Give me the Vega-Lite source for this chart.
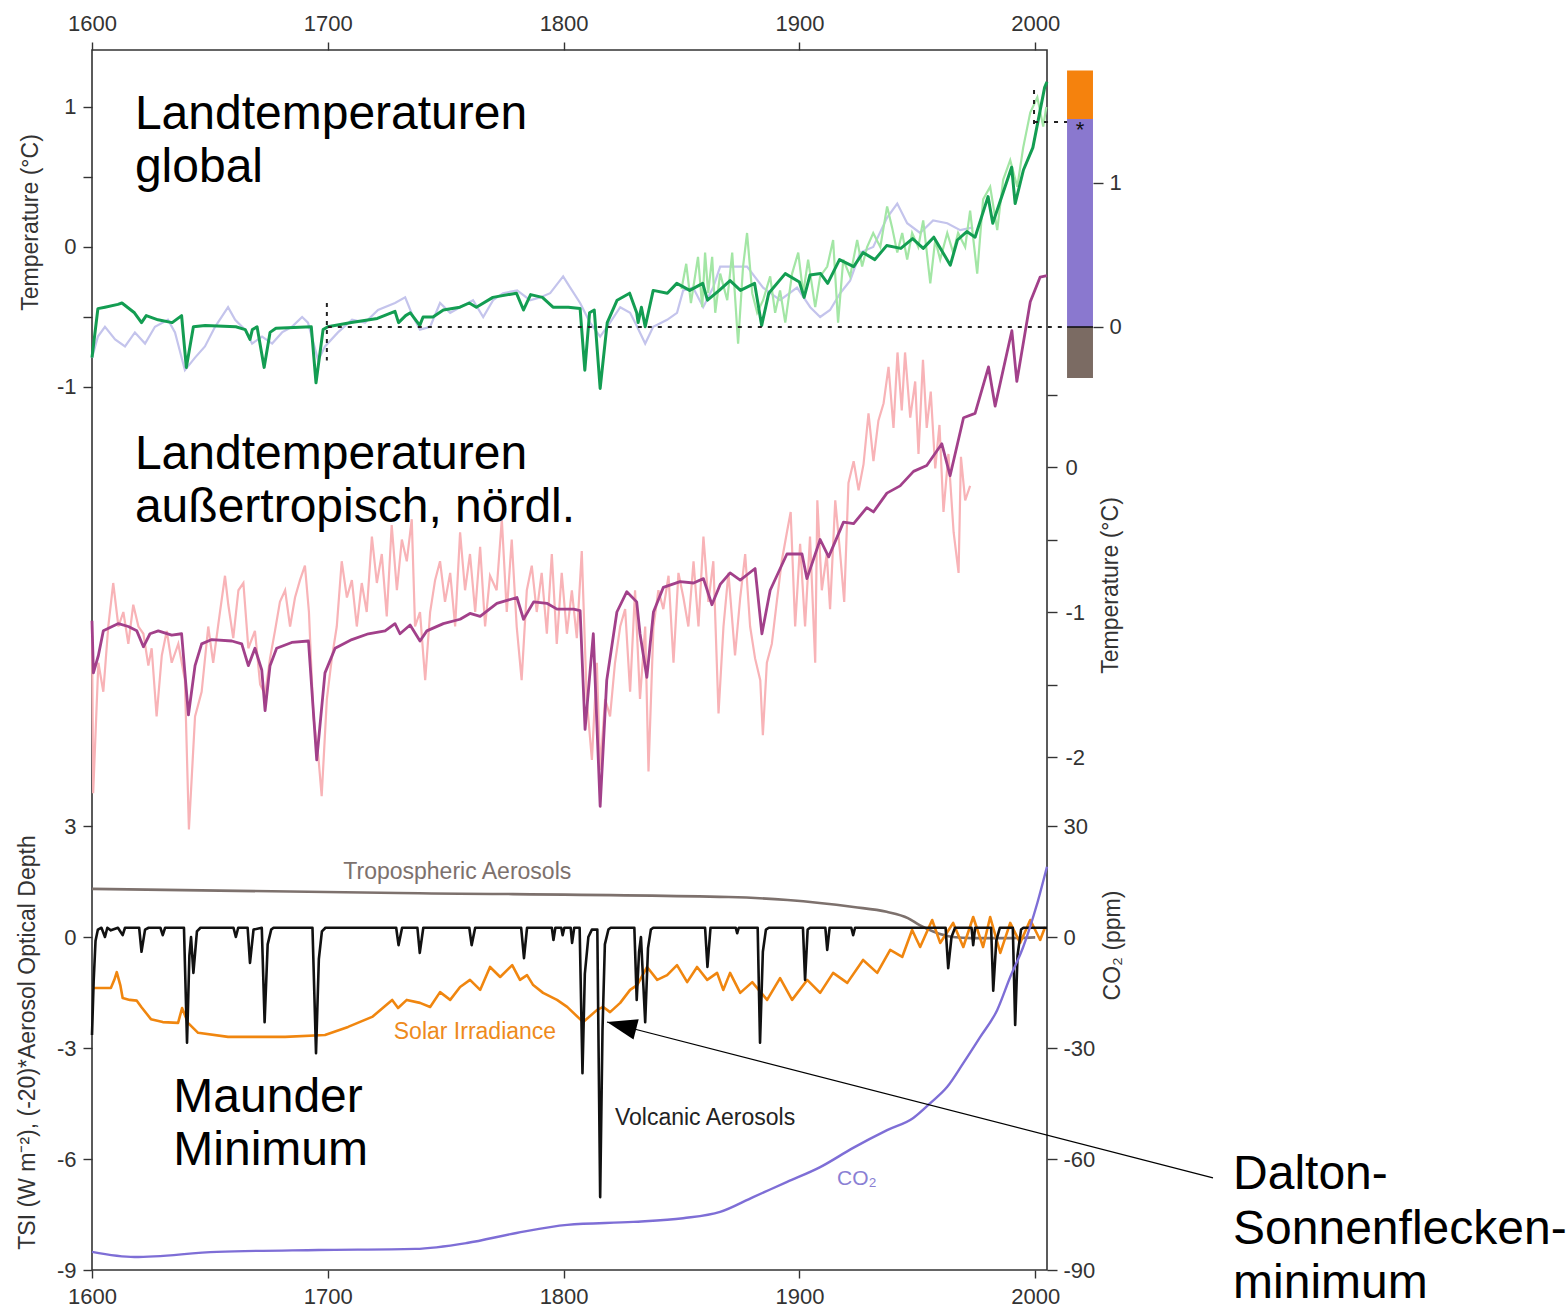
{
  "$schema": "https://vega.github.io/schema/vega-lite/v6.json",
  "width": 955,
  "height": 1220,
  "autosize": {"type": "none"},
  "padding": {"left": 92, "top": 50, "right": 521, "bottom": 40},
  "background": "white",
  "config": {
    "font": "Liberation Sans",
    "view": {"stroke": "#333", "strokeWidth": 1.6},
    "axis": {"grid": false, "domain": false, "labelFont": "Liberation Sans", "labelFontSize": 22, "labelColor": "#333", "tickColor": "#333", "tickWidth": 1.4, "titleFont": "Liberation Sans", "titleFontSize": 23, "titleFontWeight": "normal", "titleColor": "#333", "labelOverlap": false, "labelFlush": false}
  },
  "datasets": {
    "globRec": [
      {"yr":1600,"v":-0.79},{"yr":1602.5,"v":-0.64},{"yr":1605.5,"v":-0.57},{"yr":1609.8,"v":-0.66},{"yr":1614,"v":-0.71},{"yr":1618.2,"v":-0.61},{"yr":1622.5,"v":-0.69},{"yr":1626.7,"v":-0.57},{"yr":1632.2,"v":-0.52},{"yr":1635.2,"v":-0.61},{"yr":1639.4,"v":-0.88},{"yr":1643.7,"v":-0.79},{"yr":1647.9,"v":-0.71},{"yr":1652.2,"v":-0.57},{"yr":1657.7,"v":-0.43},{"yr":1660.7,"v":-0.52},{"yr":1664.9,"v":-0.59},{"yr":1667.9,"v":-0.69},{"yr":1672.1,"v":-0.64},{"yr":1676.4,"v":-0.69},{"yr":1680.6,"v":-0.61},{"yr":1684.8,"v":-0.57},{"yr":1689.1,"v":-0.50},{"yr":1691.6,"v":-0.54},{"yr":1695.9,"v":-0.81},{"yr":1698.8,"v":-0.71},{"yr":1704.3,"v":-0.61},{"yr":1710.3,"v":-0.52},{"yr":1715.8,"v":-0.54},{"yr":1721.3,"v":-0.45},{"yr":1728.5,"v":-0.40},{"yr":1732.8,"v":-0.36},{"yr":1736.2,"v":-0.50},{"yr":1739.1,"v":-0.59},{"yr":1743.4,"v":-0.57},{"yr":1747.6,"v":-0.40},{"yr":1751.9,"v":-0.47},{"yr":1756.1,"v":-0.43},{"yr":1761.6,"v":-0.38},{"yr":1765.9,"v":-0.50},{"yr":1770.1,"v":-0.38},{"yr":1774.3,"v":-0.33},{"yr":1780.3,"v":-0.31},{"yr":1785.8,"v":-0.38},{"yr":1790,"v":-0.36},{"yr":1794.3,"v":-0.33},{"yr":1799.8,"v":-0.21},{"yr":1802.8,"v":-0.29},{"yr":1807,"v":-0.40},{"yr":1811.2,"v":-0.54},{"yr":1815.5,"v":-0.64},{"yr":1819.7,"v":-0.54},{"yr":1824,"v":-0.43},{"yr":1828.2,"v":-0.47},{"yr":1831.2,"v":-0.57},{"yr":1834.6,"v":-0.69},{"yr":1838,"v":-0.57},{"yr":1843.9,"v":-0.52},{"yr":1848.1,"v":-0.47},{"yr":1850.7,"v":-0.31},{"yr":1854.9,"v":-0.29},{"yr":1859.2,"v":-0.43},{"yr":1863.4,"v":-0.29},{"yr":1866.4,"v":-0.14},{"yr":1877.8,"v":-0.14},{"yr":1884.6,"v":-0.29},{"yr":1891.8,"v":-0.38},{"yr":1899,"v":-0.29},{"yr":1904.6,"v":-0.43},{"yr":1908.8,"v":-0.50},{"yr":1913,"v":-0.45},{"yr":1917.3,"v":-0.33},{"yr":1921.5,"v":-0.24},{"yr":1925.8,"v":-0.04},{"yr":1931.3,"v":0.0},{"yr":1937.2,"v":0.21},{"yr":1941.5,"v":0.31},{"yr":1945.7,"v":0.17},{"yr":1951.2,"v":0.10},{"yr":1956.7,"v":0.19},{"yr":1962.7,"v":0.17},{"yr":1968.2,"v":0.12},{"yr":1973.7,"v":0.14}
    ],
    "globInst": [
      {"yr":1850,"v":-0.30},{"yr":1852,"v":-0.12},{"yr":1854,"v":-0.40},{"yr":1857,"v":-0.07},{"yr":1858.8,"v":-0.43},{"yr":1860,"v":-0.04},{"yr":1861.3,"v":-0.33},{"yr":1863,"v":-0.07},{"yr":1864.3,"v":-0.47},{"yr":1866.4,"v":-0.19},{"yr":1869.4,"v":-0.38},{"yr":1871.5,"v":-0.04},{"yr":1874,"v":-0.69},{"yr":1876.1,"v":-0.14},{"yr":1877.8,"v":0.10},{"yr":1880,"v":-0.33},{"yr":1882.1,"v":-0.47},{"yr":1884.6,"v":-0.38},{"yr":1887.6,"v":-0.21},{"yr":1889.7,"v":-0.47},{"yr":1891.8,"v":-0.31},{"yr":1894,"v":-0.54},{"yr":1896.9,"v":-0.19},{"yr":1899.5,"v":-0.04},{"yr":1901.6,"v":-0.33},{"yr":1903.7,"v":-0.09},{"yr":1906.7,"v":-0.43},{"yr":1908.8,"v":-0.21},{"yr":1911.8,"v":-0.14},{"yr":1914.3,"v":0.05},{"yr":1916.4,"v":-0.54},{"yr":1918.6,"v":-0.09},{"yr":1921.5,"v":-0.21},{"yr":1924.5,"v":0.05},{"yr":1926.6,"v":-0.14},{"yr":1928.7,"v":0.0},{"yr":1931.3,"v":0.10},{"yr":1934.3,"v":0.0},{"yr":1937.2,"v":0.29},{"yr":1939.3,"v":0.14},{"yr":1941.5,"v":-0.04},{"yr":1943.6,"v":0.10},{"yr":1945.7,"v":-0.09},{"yr":1947.8,"v":0.10},{"yr":1950.4,"v":0.0},{"yr":1952.5,"v":0.19},{"yr":1955.5,"v":-0.26},{"yr":1957.6,"v":0.05},{"yr":1959.7,"v":-0.09},{"yr":1962.7,"v":0.10},{"yr":1965.2,"v":-0.04},{"yr":1967.3,"v":0.10},{"yr":1970.3,"v":0.0},{"yr":1972.4,"v":0.26},{"yr":1975.4,"v":-0.19},{"yr":1977.9,"v":0.34},{"yr":1980.9,"v":0.43},{"yr":1983.9,"v":0.12},{"yr":1986.4,"v":0.48},{"yr":1989.4,"v":0.62},{"yr":1992.4,"v":0.43},{"yr":1994.9,"v":0.71},{"yr":1997.9,"v":0.96},{"yr":2000.9,"v":1.07},{"yr":2003.4,"v":0.86},{"yr":2004.7,"v":1.00}
    ],
    "glob": [
      {"yr":1600,"v":-0.79},{"yr":1602.5,"v":-0.44},{"yr":1605.5,"v":-0.43},{"yr":1611,"v":-0.41},{"yr":1612.7,"v":-0.40},{"yr":1618,"v":-0.47},{"yr":1621,"v":-0.54},{"yr":1623,"v":-0.49},{"yr":1628,"v":-0.52},{"yr":1634,"v":-0.54},{"yr":1638,"v":-0.49},{"yr":1640,"v":-0.86},{"yr":1643,"v":-0.57},{"yr":1648,"v":-0.56},{"yr":1661,"v":-0.57},{"yr":1665,"v":-0.59},{"yr":1667,"v":-0.66},{"yr":1668,"v":-0.59},{"yr":1670,"v":-0.57},{"yr":1673,"v":-0.86},{"yr":1675.5,"v":-0.61},{"yr":1678,"v":-0.58},{"yr":1693,"v":-0.57},{"yr":1695,"v":-0.97},{"yr":1698,"v":-0.59},{"yr":1700,"v":-0.57},{"yr":1710,"v":-0.54},{"yr":1721,"v":-0.51},{"yr":1728.5,"v":-0.46},{"yr":1730,"v":-0.54},{"yr":1733,"v":-0.49},{"yr":1735,"v":-0.47},{"yr":1739,"v":-0.56},{"yr":1740.4,"v":-0.50},{"yr":1744.6,"v":-0.50},{"yr":1749,"v":-0.45},{"yr":1756,"v":-0.43},{"yr":1760,"v":-0.40},{"yr":1763,"v":-0.43},{"yr":1770,"v":-0.36},{"yr":1780,"v":-0.33},{"yr":1783,"v":-0.45},{"yr":1786,"v":-0.34},{"yr":1791,"v":-0.36},{"yr":1795.5,"v":-0.43},{"yr":1802,"v":-0.43},{"yr":1807,"v":-0.44},{"yr":1809,"v":-0.88},{"yr":1811,"v":-0.47},{"yr":1813,"v":-0.45},{"yr":1815.5,"v":-1.01},{"yr":1818.5,"v":-0.54},{"yr":1822.7,"v":-0.38},{"yr":1828,"v":-0.33},{"yr":1831,"v":-0.47},{"yr":1831.6,"v":-0.54},{"yr":1833,"v":-0.43},{"yr":1834.6,"v":-0.57},{"yr":1838,"v":-0.31},{"yr":1844,"v":-0.33},{"yr":1848,"v":-0.26},{"yr":1853.5,"v":-0.31},{"yr":1859,"v":-0.26},{"yr":1861,"v":-0.38},{"yr":1866,"v":-0.31},{"yr":1870.6,"v":-0.24},{"yr":1875,"v":-0.31},{"yr":1881,"v":-0.26},{"yr":1884,"v":-0.56},{"yr":1887,"v":-0.33},{"yr":1894,"v":-0.19},{"yr":1900,"v":-0.25},{"yr":1902,"v":-0.36},{"yr":1904.5,"v":-0.20},{"yr":1909,"v":-0.19},{"yr":1912,"v":-0.26},{"yr":1917,"v":-0.09},{"yr":1923,"v":-0.14},{"yr":1927,"v":-0.04},{"yr":1932,"v":-0.09},{"yr":1937,"v":0.01},{"yr":1943,"v":-0.01},{"yr":1948,"v":0.06},{"yr":1952.5,"v":-0.01},{"yr":1957,"v":0.07},{"yr":1964,"v":-0.13},{"yr":1967,"v":0.05},{"yr":1971,"v":0.11},{"yr":1974.5,"v":0.07},{"yr":1980,"v":0.36},{"yr":1982,"v":0.17},{"yr":1990,"v":0.57},{"yr":1991.5,"v":0.31},{"yr":1995,"v":0.55},{"yr":1999,"v":0.71},{"yr":2004,"v":1.14},{"yr":2005,"v":1.18}
    ],
    "nhRec": [
      {"yr":1600,"v":-1.10},{"yr":1600.5,"v":-2.25},{"yr":1602.7,"v":-1.35},{"yr":1604.8,"v":-1.55},{"yr":1606.9,"v":-1.10},{"yr":1609,"v":-0.80},{"yr":1611.2,"v":-1.10},{"yr":1613.3,"v":-1.00},{"yr":1615.4,"v":-1.22},{"yr":1617.5,"v":-0.95},{"yr":1619.7,"v":-1.10},{"yr":1621.8,"v":-1.15},{"yr":1623.9,"v":-1.37},{"yr":1625.3,"v":-1.25},{"yr":1627.4,"v":-1.72},{"yr":1629.6,"v":-1.30},{"yr":1631.7,"v":-1.13},{"yr":1633.8,"v":-1.35},{"yr":1636.6,"v":-1.22},{"yr":1639.4,"v":-1.47},{"yr":1641.1,"v":-2.50},{"yr":1643.7,"v":-1.72},{"yr":1646.5,"v":-1.55},{"yr":1649.3,"v":-1.10},{"yr":1651.4,"v":-1.35},{"yr":1653.6,"v":-1.08},{"yr":1656.4,"v":-0.75},{"yr":1657.8,"v":-0.95},{"yr":1659.9,"v":-1.18},{"yr":1662.1,"v":-0.85},{"yr":1664.2,"v":-0.80},{"yr":1666.3,"v":-1.25},{"yr":1669.1,"v":-1.13},{"yr":1671.3,"v":-1.50},{"yr":1673.4,"v":-1.57},{"yr":1675.5,"v":-1.32},{"yr":1677.6,"v":-1.13},{"yr":1679.7,"v":-0.93},{"yr":1681.9,"v":-0.85},{"yr":1684,"v":-1.10},{"yr":1686.1,"v":-0.90},{"yr":1688.2,"v":-0.78},{"yr":1690.3,"v":-0.68},{"yr":1692,"v":-1.00},{"yr":1693.9,"v":-1.72},{"yr":1696,"v":-2.00},{"yr":1697.4,"v":-2.27},{"yr":1699.6,"v":-1.60},{"yr":1701.7,"v":-1.32},{"yr":1703.8,"v":-1.10},{"yr":1705.9,"v":-0.65},{"yr":1708.1,"v":-0.90},{"yr":1710.2,"v":-0.78},{"yr":1712.3,"v":-1.10},{"yr":1714.4,"v":-0.80},{"yr":1716.5,"v":-1.00},{"yr":1718.7,"v":-0.48},{"yr":1720.8,"v":-0.80},{"yr":1722.9,"v":-0.60},{"yr":1725,"v":-1.03},{"yr":1727.1,"v":-0.40},{"yr":1729.3,"v":-0.85},{"yr":1731.4,"v":-0.50},{"yr":1733.5,"v":-0.65},{"yr":1735.6,"v":-0.36},{"yr":1737,"v":-1.10},{"yr":1739.1,"v":-1.00},{"yr":1741.3,"v":-1.47},{"yr":1743.4,"v":-1.00},{"yr":1745.5,"v":-0.78},{"yr":1747.6,"v":-0.65},{"yr":1749.7,"v":-0.93},{"yr":1751.9,"v":-0.73},{"yr":1754,"v":-1.10},{"yr":1756.1,"v":-0.45},{"yr":1758.2,"v":-0.85},{"yr":1760.3,"v":-0.60},{"yr":1762.5,"v":-1.00},{"yr":1764.6,"v":-0.55},{"yr":1766.7,"v":-1.10},{"yr":1768.8,"v":-0.75},{"yr":1771.6,"v":-0.85},{"yr":1773.8,"v":-0.36},{"yr":1775.9,"v":-1.00},{"yr":1778,"v":-0.50},{"yr":1780.1,"v":-1.10},{"yr":1782.2,"v":-1.47},{"yr":1784.4,"v":-0.85},{"yr":1786.5,"v":-0.68},{"yr":1788.6,"v":-1.00},{"yr":1790.7,"v":-0.73},{"yr":1792.9,"v":-1.15},{"yr":1795,"v":-0.60},{"yr":1797.1,"v":-1.22},{"yr":1799.2,"v":-0.73},{"yr":1801.4,"v":-1.15},{"yr":1803.5,"v":-0.85},{"yr":1805.6,"v":-1.18},{"yr":1807.7,"v":-0.58},{"yr":1809.8,"v":-1.60},{"yr":1812,"v":-2.02},{"yr":1814.1,"v":-1.35},{"yr":1815.5,"v":-2.09},{"yr":1817.6,"v":-1.60},{"yr":1819.7,"v":-1.72},{"yr":1821.8,"v":-1.35},{"yr":1824,"v":-1.10},{"yr":1826.1,"v":-0.98},{"yr":1828.2,"v":-1.55},{"yr":1830.3,"v":-0.85},{"yr":1832.4,"v":-1.60},{"yr":1834.6,"v":-1.10},{"yr":1836,"v":-2.10},{"yr":1838.1,"v":-1.10},{"yr":1840.2,"v":-0.85},{"yr":1842.3,"v":-0.98},{"yr":1844.5,"v":-0.75},{"yr":1846.6,"v":-1.35},{"yr":1848.7,"v":-0.73},{"yr":1850.8,"v":-0.90},{"yr":1852.9,"v":-1.10},{"yr":1855.1,"v":-0.65},{"yr":1857.2,"v":-1.10},{"yr":1859.3,"v":-0.48},{"yr":1861.4,"v":-0.93},{"yr":1863.5,"v":-0.65},{"yr":1865.7,"v":-1.70},{"yr":1867.8,"v":-1.10},{"yr":1869.9,"v":-0.73},{"yr":1872.7,"v":-1.30},{"yr":1874.9,"v":-0.90},{"yr":1877,"v":-0.60},{"yr":1879.1,"v":-1.10},{"yr":1881.2,"v":-1.32},{"yr":1883.4,"v":-1.47},{"yr":1884.5,"v":-1.85},{"yr":1886.2,"v":-1.35},{"yr":1888.3,"v":-1.22},{"yr":1890.4,"v":-0.93},{"yr":1892.5,"v":-0.65},{"yr":1894.7,"v":-0.45},{"yr":1896.3,"v":-0.31},{"yr":1898.2,"v":-1.10},{"yr":1900.3,"v":-0.53},{"yr":1902.4,"v":-1.10},{"yr":1904.5,"v":-0.48},{"yr":1906.7,"v":-1.35},{"yr":1907.6,"v":-0.23},{"yr":1909.5,"v":-0.85},{"yr":1911.6,"v":-0.60},{"yr":1913,"v":-0.98},{"yr":1915.2,"v":-0.23},{"yr":1917.3,"v":-0.60},{"yr":1919,"v":-0.93},{"yr":1920.8,"v":-0.11},{"yr":1923,"v":0.04},{"yr":1925.1,"v":-0.16},{"yr":1927.2,"v":0.02},{"yr":1929.3,"v":0.37},{"yr":1931.4,"v":0.04},{"yr":1933.5,"v":0.32},{"yr":1935.7,"v":0.44},{"yr":1937.8,"v":0.69},{"yr":1939.9,"v":0.27},{"yr":1941.6,"v":0.79},{"yr":1943.4,"v":0.39},{"yr":1944.8,"v":0.79},{"yr":1947,"v":0.34},{"yr":1949.1,"v":0.59},{"yr":1950.5,"v":0.09},{"yr":1952.4,"v":0.74},{"yr":1954,"v":0.27},{"yr":1955.7,"v":0.52},{"yr":1957.6,"v":-0.01},{"yr":1959.4,"v":0.29},{"yr":1961.1,"v":-0.31},{"yr":1963.2,"v":0.09},{"yr":1965.4,"v":-0.45},{"yr":1967.5,"v":-0.73},{"yr":1968.5,"v":0.07},{"yr":1970.3,"v":-0.23},{"yr":1972.4,"v":-0.13}
    ],
    "nh": [
      {"yr":1600,"v":-1.06},{"yr":1600.6,"v":-1.42},{"yr":1602.7,"v":-1.30},{"yr":1604.8,"v":-1.13},{"yr":1611.2,"v":-1.08},{"yr":1615.4,"v":-1.10},{"yr":1619,"v":-1.13},{"yr":1621.8,"v":-1.24},{"yr":1624.6,"v":-1.15},{"yr":1628.1,"v":-1.13},{"yr":1633.8,"v":-1.16},{"yr":1638,"v":-1.15},{"yr":1640.9,"v":-1.71},{"yr":1643.7,"v":-1.37},{"yr":1646.5,"v":-1.22},{"yr":1650.8,"v":-1.19},{"yr":1659.3,"v":-1.20},{"yr":1663.5,"v":-1.22},{"yr":1666.3,"v":-1.37},{"yr":1669.1,"v":-1.25},{"yr":1672,"v":-1.40},{"yr":1673.4,"v":-1.68},{"yr":1675.5,"v":-1.37},{"yr":1678.3,"v":-1.25},{"yr":1684.7,"v":-1.21},{"yr":1691.8,"v":-1.20},{"yr":1695.3,"v":-2.02},{"yr":1698.8,"v":-1.42},{"yr":1703.1,"v":-1.25},{"yr":1710.2,"v":-1.19},{"yr":1717.2,"v":-1.15},{"yr":1724.3,"v":-1.13},{"yr":1728.5,"v":-1.08},{"yr":1730.6,"v":-1.15},{"yr":1734.9,"v":-1.09},{"yr":1739.1,"v":-1.20},{"yr":1742,"v":-1.13},{"yr":1749,"v":-1.08},{"yr":1756.1,"v":-1.05},{"yr":1760.3,"v":-1.01},{"yr":1764.6,"v":-1.03},{"yr":1771.7,"v":-0.94},{"yr":1780.2,"v":-0.90},{"yr":1783,"v":-1.05},{"yr":1787.3,"v":-0.93},{"yr":1792.9,"v":-0.94},{"yr":1797.2,"v":-0.98},{"yr":1804.2,"v":-0.98},{"yr":1807,"v":-0.99},{"yr":1809.1,"v":-1.81},{"yr":1812.6,"v":-1.15},{"yr":1815.5,"v":-2.34},{"yr":1818.3,"v":-1.47},{"yr":1822.6,"v":-1.00},{"yr":1826.8,"v":-0.86},{"yr":1831,"v":-0.93},{"yr":1832.4,"v":-1.15},{"yr":1835.3,"v":-1.45},{"yr":1838.1,"v":-1.00},{"yr":1842.3,"v":-0.83},{"yr":1849.4,"v":-0.79},{"yr":1855.1,"v":-0.80},{"yr":1859.3,"v":-0.77},{"yr":1862.9,"v":-0.95},{"yr":1866.4,"v":-0.81},{"yr":1870.6,"v":-0.73},{"yr":1874.9,"v":-0.78},{"yr":1881.2,"v":-0.70},{"yr":1884.1,"v":-1.15},{"yr":1887.6,"v":-0.85},{"yr":1894.7,"v":-0.60},{"yr":1901.1,"v":-0.60},{"yr":1903.2,"v":-0.77},{"yr":1908.8,"v":-0.50},{"yr":1912.4,"v":-0.62},{"yr":1918.7,"v":-0.38},{"yr":1923,"v":-0.39},{"yr":1928.6,"v":-0.28},{"yr":1931.4,"v":-0.31},{"yr":1937.1,"v":-0.18},{"yr":1942.7,"v":-0.13},{"yr":1948.4,"v":-0.03},{"yr":1954,"v":0.01},{"yr":1960.4,"v":0.16},{"yr":1963.9,"v":-0.06},{"yr":1969.6,"v":0.34},{"yr":1974.5,"v":0.37},{"yr":1980.2,"v":0.69},{"yr":1983,"v":0.42},{"yr":1990.1,"v":0.94},{"yr":1992.2,"v":0.59},{"yr":1997.9,"v":1.14},{"yr":2002.1,"v":1.31},{"yr":2005,"v":1.32}
    ],
    "tropo": [
      {"yr":1600,"v":1.30},{"yr":1730,"v":1.19},{"yr":1870,"v":1.08},{"yr":1895,"v":1.00},{"yr":1923,"v":0.81},{"yr":1937,"v":0.68},{"yr":1946,"v":0.51},{"yr":1951,"v":0.32},{"yr":1957,"v":0.14},{"yr":1965,"v":0.0},{"yr":1973,"v":-0.03},{"yr":1990,"v":-0.03},{"yr":2000,"v":-0.01}
    ],
    "solar": [
      {"yr":1600,"v":-1.38},{"yr":1608,"v":-1.38},{"yr":1609.5,"v":-1.15},{"yr":1610.5,"v":-0.95},{"yr":1612,"v":-1.30},{"yr":1613,"v":-1.65},{"yr":1616,"v":-1.70},{"yr":1619,"v":-1.72},{"yr":1621,"v":-1.90},{"yr":1625,"v":-2.22},{"yr":1630,"v":-2.30},{"yr":1636.5,"v":-2.32},{"yr":1638.2,"v":-1.92},{"yr":1640.7,"v":-2.32},{"yr":1645,"v":-2.59},{"yr":1657.7,"v":-2.70},{"yr":1681.9,"v":-2.70},{"yr":1698.8,"v":-2.65},{"yr":1708.6,"v":-2.43},{"yr":1718.8,"v":-2.16},{"yr":1727.3,"v":-1.70},{"yr":1729.8,"v":-1.92},{"yr":1733.5,"v":-1.70},{"yr":1739.1,"v":-1.78},{"yr":1743.4,"v":-1.89},{"yr":1747.6,"v":-1.49},{"yr":1751.9,"v":-1.70},{"yr":1756.1,"v":-1.35},{"yr":1760.3,"v":-1.16},{"yr":1764.6,"v":-1.43},{"yr":1768.8,"v":-0.81},{"yr":1773.1,"v":-1.08},{"yr":1778.2,"v":-0.76},{"yr":1781.5,"v":-1.16},{"yr":1784.5,"v":-1.03},{"yr":1787.1,"v":-1.30},{"yr":1791.3,"v":-1.51},{"yr":1797.2,"v":-1.70},{"yr":1801.5,"v":-1.89},{"yr":1808.3,"v":-2.30},{"yr":1814.2,"v":-1.97},{"yr":1816.8,"v":-1.89},{"yr":1819.7,"v":-2.03},{"yr":1824,"v":-1.78},{"yr":1828.2,"v":-1.43},{"yr":1831.2,"v":-1.30},{"yr":1835.4,"v":-0.81},{"yr":1839.7,"v":-1.16},{"yr":1843.9,"v":-1.03},{"yr":1848.1,"v":-0.76},{"yr":1852.4,"v":-1.22},{"yr":1856.6,"v":-0.81},{"yr":1860.9,"v":-1.16},{"yr":1865.1,"v":-0.97},{"yr":1867.7,"v":-1.43},{"yr":1870.6,"v":-0.97},{"yr":1874.9,"v":-1.51},{"yr":1880,"v":-1.22},{"yr":1886.3,"v":-1.70},{"yr":1891.8,"v":-1.11},{"yr":1896.9,"v":-1.70},{"yr":1903.3,"v":-1.16},{"yr":1908.8,"v":-1.51},{"yr":1914.3,"v":-0.97},{"yr":1920.3,"v":-1.24},{"yr":1927,"v":-0.62},{"yr":1933,"v":-0.97},{"yr":1938.5,"v":-0.35},{"yr":1943.6,"v":-0.54},{"yr":1947.8,"v":0.19},{"yr":1951.2,"v":-0.27},{"yr":1956.3,"v":0.46},{"yr":1959.7,"v":-0.16},{"yr":1965.2,"v":0.38},{"yr":1969.5,"v":-0.27},{"yr":1973.7,"v":0.54},{"yr":1977.9,"v":-0.27},{"yr":1980.9,"v":0.54},{"yr":1985.2,"v":-0.43},{"yr":1989.4,"v":0.38},{"yr":1993.6,"v":-0.16},{"yr":1997.9,"v":0.46},{"yr":2002.1,"v":-0.08},{"yr":2004.2,"v":0.27}
    ],
    "volc": [
      {"yr":1600,"v":-2.65},{"yr":1600.7,"v":-1.2},{"yr":1601.5,"v":-0.1},{"yr":1602.5,"v":0.2},{"yr":1604,"v":0.25},{"yr":1605.5,"v":0.0},{"yr":1606.5,"v":0.25},{"yr":1608,"v":0.18},{"yr":1611,"v":0.25},{"yr":1613,"v":0.05},{"yr":1614,"v":0.25},{"yr":1620,"v":0.25},{"yr":1621,"v":-0.40},{"yr":1622.5,"v":0.2},{"yr":1624,"v":0.25},{"yr":1629,"v":0.25},{"yr":1630,"v":0.05},{"yr":1631,"v":0.25},{"yr":1639,"v":0.25},{"yr":1640.3,"v":-2.86},{"yr":1641.3,"v":-0.5},{"yr":1642,"v":0.0},{"yr":1643,"v":-0.97},{"yr":1644.5,"v":0.15},{"yr":1646,"v":0.25},{"yr":1660,"v":0.25},{"yr":1661,"v":0.0},{"yr":1662,"v":0.25},{"yr":1666,"v":0.25},{"yr":1667,"v":-0.70},{"yr":1668.5,"v":0.2},{"yr":1672,"v":0.25},{"yr":1673.2,"v":-2.30},{"yr":1674.5,"v":-0.2},{"yr":1676,"v":0.2},{"yr":1677,"v":0.25},{"yr":1693.5,"v":0.25},{"yr":1695,"v":-3.14},{"yr":1696.2,"v":-0.6},{"yr":1697.5,"v":0.15},{"yr":1699,"v":0.25},{"yr":1729,"v":0.25},{"yr":1730,"v":-0.22},{"yr":1731.5,"v":0.25},{"yr":1738,"v":0.25},{"yr":1739,"v":-0.43},{"yr":1740.5,"v":0.25},{"yr":1760,"v":0.25},{"yr":1761,"v":-0.22},{"yr":1762.5,"v":0.25},{"yr":1782,"v":0.25},{"yr":1783.2,"v":-0.57},{"yr":1784.5,"v":0.25},{"yr":1795,"v":0.25},{"yr":1795.7,"v":-0.08},{"yr":1796.5,"v":0.25},{"yr":1799,"v":0.25},{"yr":1799.6,"v":0.05},{"yr":1800.3,"v":0.25},{"yr":1803,"v":0.25},{"yr":1803.6,"v":-0.16},{"yr":1804.5,"v":0.25},{"yr":1806.8,"v":0.25},{"yr":1808,"v":-3.68},{"yr":1809,"v":-1.0},{"yr":1810.5,"v":0.0},{"yr":1812,"v":0.2},{"yr":1814.3,"v":0.2},{"yr":1815.5,"v":-7.03},{"yr":1816.5,"v":-2.5},{"yr":1817.5,"v":-0.2},{"yr":1819,"v":0.2},{"yr":1820,"v":0.25},{"yr":1830,"v":0.25},{"yr":1831,"v":-1.70},{"yr":1832,"v":-0.4},{"yr":1832.8,"v":0.0},{"yr":1834.6,"v":-2.30},{"yr":1835.8,"v":-0.3},{"yr":1837,"v":0.2},{"yr":1838,"v":0.25},{"yr":1860,"v":0.25},{"yr":1861,"v":-0.81},{"yr":1862.3,"v":0.25},{"yr":1873,"v":0.25},{"yr":1873.6,"v":0.1},{"yr":1874.3,"v":0.25},{"yr":1882.3,"v":0.25},{"yr":1883.3,"v":-2.86},{"yr":1884.5,"v":-0.4},{"yr":1885.8,"v":0.2},{"yr":1887,"v":0.25},{"yr":1901.5,"v":0.25},{"yr":1902.4,"v":-1.16},{"yr":1903.5,"v":0.2},{"yr":1904.5,"v":0.25},{"yr":1911,"v":0.25},{"yr":1911.8,"v":-0.35},{"yr":1912.8,"v":0.25},{"yr":1922,"v":0.25},{"yr":1922.8,"v":0.05},{"yr":1923.6,"v":0.25},{"yr":1962,"v":0.25},{"yr":1963.1,"v":-0.84},{"yr":1964.5,"v":0.0},{"yr":1966,"v":0.25},{"yr":1973,"v":0.25},{"yr":1973.7,"v":-0.22},{"yr":1974.5,"v":0.25},{"yr":1981.3,"v":0.25},{"yr":1982.2,"v":-1.45},{"yr":1983.5,"v":-0.1},{"yr":1985,"v":0.25},{"yr":1990.5,"v":0.25},{"yr":1991.5,"v":-2.38},{"yr":1992.5,"v":-0.5},{"yr":1994,"v":0.2},{"yr":1995,"v":0.25},{"yr":2005,"v":0.25}
    ],
    "co2": [
      {"yr":1600,"v":-85.1},{"yr":1618,"v":-86.5},{"yr":1653,"v":-85.1},{"yr":1696,"v":-84.6},{"yr":1737,"v":-84.3},{"yr":1759,"v":-82.7},{"yr":1780,"v":-80.0},{"yr":1801.5,"v":-77.8},{"yr":1829.5,"v":-77.0},{"yr":1850.7,"v":-76.0},{"yr":1866.4,"v":-74.3},{"yr":1880.4,"v":-70.3},{"yr":1894.8,"v":-66.2},{"yr":1908.8,"v":-62.2},{"yr":1922.8,"v":-57.0},{"yr":1937.2,"v":-52.2},{"yr":1948.3,"v":-48.9},{"yr":1955.5,"v":-44.9},{"yr":1962.7,"v":-40.5},{"yr":1969.5,"v":-34.1},{"yr":1976.7,"v":-27.0},{"yr":1983.9,"v":-19.7},{"yr":1989.4,"v":-10.8},{"yr":1994.9,"v":-2.7},{"yr":2000.9,"v":9.2},{"yr":2005,"v":19.0}
    ],
    "cbar": [
      {"part":"upper","x1":2013.5,"x2":2024.5,"lo":1.444,"hi":1.781},
      {"part":"middle","x1":2013.5,"x2":2024.5,"lo":0,"hi":1.444},
      {"part":"lower","x1":2013.5,"x2":2024.5,"lo":-0.354,"hi":0}
    ],
    "cbDots": [
      {"x1":1700,"x2":2013.5,"y1":0,"y2":0},
      {"x1":1999.5,"x2":2013.5,"y1":1.424,"y2":1.424},
      {"x1":1999.5,"x2":1999.5,"y1":1.41,"y2":1.646}
    ],
    "cbZero": [{"x1":2013.5,"x2":2024.5,"y1":0,"y2":0}],
    "cbStar": [{"yr":2019,"v":1.319,"t":"*"}],
    "dot1700": [{"yr":1699.6,"v":-0.40,"v2":-0.81}],
    "topLabel": [
      {"yr":1618.2,"v":0.846,"t":"Landtemperaturen"},
      {"yr":1618.2,"v":0.461,"t":"global"}
    ],
    "midLabel": [
      {"yr":1618.2,"v":-0.014,"t":"Landtemperaturen"},
      {"yr":1618.2,"v":-0.379,"t":"außertropisch, nördl."}
    ],
    "tropoLabel": [{"yr":1754.9,"v":1.568,"t":"Tropospheric Aerosols"}],
    "solarLabel": [{"yr":1762.4,"v":-2.757,"t":"Solar Irradiance"}],
    "volcLabel": [{"yr":1860,"v":-5.08,"t":"Volcanic Aerosols"}],
    "bigBotLabels": [
      {"yr":1634.5,"v":-4.72,"t":"Maunder"},
      {"yr":1634.5,"v":-6.16,"t":"Minimum"},
      {"yr":2083.9,"v":-6.81,"t":"Dalton-"},
      {"yr":2083.9,"v":-8.30,"t":"Sonnenflecken-"},
      {"yr":2083.9,"v":-9.76,"t":"minimum"}
    ],
    "arrow": [{"x1":1818.4,"y1":-2.297,"x2":2075.4,"y2":-6.51}],
    "arrowHead": [{"yr":1818.4,"v":-2.297}],
    "co2Label": [{"yr":1924.4,"v":-67.0,"t":"CO₂"}]
  },
  "layer": [
    {
      "data": {"name": "globRec"},
      "mark": {"type": "line", "color": "#c4c4ec", "strokeWidth": 2.2},
      "encoding": {
        "x": {"field": "yr", "type": "quantitative", "scale": {"domain": [1600, 2005], "nice": false, "zero": false},
              "axis": {"orient": "top", "values": [1600, 1700, 1800, 1900, 2000], "format": "d", "title": null, "tickSize": 8, "labelPadding": 7}},
        "y": {"field": "v", "type": "quantitative", "scale": {"domain": [-7.3071, 1.4071], "nice": false, "zero": false},
              "axis": {"orient": "left", "values": [1, 0.5, 0, -0.5, -1], "labelExpr": "datum.value % 1 === 0 ? '' + datum.value : ''", "title": "Temperature (°C)", "titleX": -62, "titleY": 172, "titleAngle": 270, "titleAlign": "center", "titleBaseline": "middle", "tickSize": 9, "labelPadding": 7}}
      }
    },
    {
      "data": {"name": "globInst"},
      "mark": {"type": "line", "color": "#a3e6a5", "strokeWidth": 2.2},
      "encoding": {
        "x": {"field": "yr", "type": "quantitative", "scale": {"domain": [1600, 2005], "nice": false, "zero": false}, "axis": null},
        "y": {"field": "v", "type": "quantitative", "scale": {"domain": [-7.3071, 1.4071], "nice": false, "zero": false}, "axis": null}
      }
    },
    {
      "data": {"name": "glob"},
      "mark": {"type": "line", "color": "#139d52", "strokeWidth": 3, "strokeJoin": "round"},
      "encoding": {
        "x": {"field": "yr", "type": "quantitative", "scale": {"domain": [1600, 2005], "nice": false, "zero": false}, "axis": null},
        "y": {"field": "v", "type": "quantitative", "scale": {"domain": [-7.3071, 1.4071], "nice": false, "zero": false}, "axis": null}
      }
    },
    {
      "data": {"name": "dot1700"},
      "mark": {"type": "rule", "color": "#222", "strokeWidth": 2, "strokeDash": [4, 5]},
      "encoding": {
        "x": {"field": "yr", "type": "quantitative", "scale": {"domain": [1600, 2005], "nice": false, "zero": false}, "axis": null},
        "y": {"field": "v", "type": "quantitative", "scale": {"domain": [-7.3071, 1.4071], "nice": false, "zero": false}, "axis": null},
        "y2": {"field": "v2"}
      }
    },
    {
      "data": {"name": "topLabel"},
      "mark": {"type": "text", "align": "left", "baseline": "alphabetic", "fontSize": 48, "font": "Liberation Sans", "color": "#000"},
      "encoding": {
        "x": {"field": "yr", "type": "quantitative", "scale": {"domain": [1600, 2005], "nice": false, "zero": false}, "axis": null},
        "y": {"field": "v", "type": "quantitative", "scale": {"domain": [-7.3071, 1.4071], "nice": false, "zero": false}, "axis": null},
        "text": {"field": "t"}
      }
    },
    {
      "data": {"name": "cbar"},
      "mark": {"type": "rect"},
      "encoding": {
        "x": {"field": "x1", "type": "quantitative", "scale": {"domain": [1600, 2005], "nice": false, "zero": false}, "axis": null},
        "x2": {"field": "x2"},
        "y": {"field": "lo", "type": "quantitative", "scale": {"domain": [-6.5486, 1.9236], "nice": false, "zero": false},
              "axis": {"orient": "right", "offset": 46, "values": [0, 1], "labelExpr": "'' + datum.value", "title": null, "tickSize": 10, "labelPadding": 6}},
        "y2": {"field": "hi"},
        "color": {"field": "part", "type": "nominal", "scale": {"domain": ["upper", "middle", "lower"], "range": ["#f5820d", "#8a78cf", "#7b6b63"]}, "legend": null}
      }
    },
    {
      "data": {"name": "cbDots"},
      "mark": {"type": "rule", "color": "#222", "strokeWidth": 2, "strokeDash": [4, 6]},
      "encoding": {
        "x": {"field": "x1", "type": "quantitative", "scale": {"domain": [1600, 2005], "nice": false, "zero": false}, "axis": null},
        "x2": {"field": "x2"},
        "y": {"field": "y1", "type": "quantitative", "scale": {"domain": [-6.5486, 1.9236], "nice": false, "zero": false}, "axis": null},
        "y2": {"field": "y2"}
      }
    },
    {
      "data": {"name": "cbZero"},
      "mark": {"type": "rule", "color": "#111", "strokeWidth": 1.6},
      "encoding": {
        "x": {"field": "x1", "type": "quantitative", "scale": {"domain": [1600, 2005], "nice": false, "zero": false}, "axis": null},
        "x2": {"field": "x2"},
        "y": {"field": "y1", "type": "quantitative", "scale": {"domain": [-6.5486, 1.9236], "nice": false, "zero": false}, "axis": null},
        "y2": {"field": "y2"}
      }
    },
    {
      "data": {"name": "cbStar"},
      "mark": {"type": "text", "align": "center", "baseline": "alphabetic", "fontSize": 22, "color": "#111"},
      "encoding": {
        "x": {"field": "yr", "type": "quantitative", "scale": {"domain": [1600, 2005], "nice": false, "zero": false}, "axis": null},
        "y": {"field": "v", "type": "quantitative", "scale": {"domain": [-6.5486, 1.9236], "nice": false, "zero": false}, "axis": null},
        "text": {"field": "t"}
      }
    },
    {
      "data": {"name": "nhRec"},
      "mark": {"type": "line", "color": "#f8b3b7", "strokeWidth": 2.2},
      "encoding": {
        "x": {"field": "yr", "type": "quantitative", "scale": {"domain": [1600, 2005], "nice": false, "zero": false}, "axis": null},
        "y": {"field": "v", "type": "quantitative", "scale": {"domain": [-5.5379, 2.8759], "nice": false, "zero": false},
              "axis": {"orient": "right", "values": [0.5, 0, -0.5, -1, -1.5, -2], "labelExpr": "datum.value % 1 === 0 ? '' + datum.value : ''", "title": "Temperature (°C)", "titleX": 63, "titleY": 535, "titleAngle": 270, "titleAlign": "center", "titleBaseline": "middle", "tickSize": 10, "labelPadding": 8}}
      }
    },
    {
      "data": {"name": "nh"},
      "mark": {"type": "line", "color": "#a2408a", "strokeWidth": 2.8, "strokeJoin": "round"},
      "encoding": {
        "x": {"field": "yr", "type": "quantitative", "scale": {"domain": [1600, 2005], "nice": false, "zero": false}, "axis": null},
        "y": {"field": "v", "type": "quantitative", "scale": {"domain": [-5.5379, 2.8759], "nice": false, "zero": false}, "axis": null}
      }
    },
    {
      "data": {"name": "midLabel"},
      "mark": {"type": "text", "align": "left", "baseline": "alphabetic", "fontSize": 48, "font": "Liberation Sans", "color": "#000"},
      "encoding": {
        "x": {"field": "yr", "type": "quantitative", "scale": {"domain": [1600, 2005], "nice": false, "zero": false}, "axis": null},
        "y": {"field": "v", "type": "quantitative", "scale": {"domain": [-5.5379, 2.8759], "nice": false, "zero": false}, "axis": null},
        "text": {"field": "t"}
      }
    },
    {
      "data": {"name": "tropo"},
      "mark": {"type": "line", "color": "#7d716d", "strokeWidth": 2.6, "interpolate": "monotone"},
      "encoding": {
        "x": {"field": "yr", "type": "quantitative", "scale": {"domain": [1600, 2005], "nice": false, "zero": false},
              "axis": {"orient": "bottom", "values": [1600, 1700, 1800, 1900, 2000], "format": "d", "title": null, "tickSize": 8, "labelPadding": 8}},
        "y": {"field": "v", "type": "quantitative", "scale": {"domain": [-9, 23.973], "nice": false, "zero": false},
              "axis": {"orient": "left", "values": [3, 0, -3, -6, -9], "labelExpr": "'' + datum.value", "title": "TSI (W m⁻²), (-20)*Aerosol Optical Depth", "titleX": -65, "titleY": 992, "titleAngle": 270, "titleAlign": "center", "titleBaseline": "middle", "tickSize": 9, "labelPadding": 7}}
      }
    },
    {
      "data": {"name": "solar"},
      "mark": {"type": "line", "color": "#f0860f", "strokeWidth": 2.6, "strokeJoin": "round"},
      "encoding": {
        "x": {"field": "yr", "type": "quantitative", "scale": {"domain": [1600, 2005], "nice": false, "zero": false}, "axis": null},
        "y": {"field": "v", "type": "quantitative", "scale": {"domain": [-9, 23.973], "nice": false, "zero": false}, "axis": null}
      }
    },
    {
      "data": {"name": "volc"},
      "mark": {"type": "line", "color": "#111", "strokeWidth": 2.6, "strokeJoin": "round"},
      "encoding": {
        "x": {"field": "yr", "type": "quantitative", "scale": {"domain": [1600, 2005], "nice": false, "zero": false}, "axis": null},
        "y": {"field": "v", "type": "quantitative", "scale": {"domain": [-9, 23.973], "nice": false, "zero": false}, "axis": null}
      }
    },
    {
      "data": {"name": "co2"},
      "mark": {"type": "line", "color": "#7e6ed6", "strokeWidth": 2.4, "interpolate": "monotone"},
      "encoding": {
        "x": {"field": "yr", "type": "quantitative", "scale": {"domain": [1600, 2005], "nice": false, "zero": false}, "axis": null},
        "y": {"field": "v", "type": "quantitative", "scale": {"domain": [-90, 239.73], "nice": false, "zero": false},
              "axis": {"orient": "right", "values": [30, 0, -30, -60, -90], "labelExpr": "'' + datum.value", "title": "CO₂ (ppm)", "titleX": 65, "titleY": 895, "titleAngle": 270, "titleAlign": "center", "titleBaseline": "middle", "tickSize": 10, "labelPadding": 6}}
      }
    },
    {
      "data": {"name": "co2Label"},
      "mark": {"type": "text", "align": "center", "baseline": "alphabetic", "fontSize": 21, "color": "#8a80d4"},
      "encoding": {
        "x": {"field": "yr", "type": "quantitative", "scale": {"domain": [1600, 2005], "nice": false, "zero": false}, "axis": null},
        "y": {"field": "v", "type": "quantitative", "scale": {"domain": [-90, 239.73], "nice": false, "zero": false}, "axis": null},
        "text": {"field": "t"}
      }
    },
    {
      "data": {"name": "tropoLabel"},
      "mark": {"type": "text", "align": "center", "baseline": "alphabetic", "fontSize": 23, "color": "#7d716d"},
      "encoding": {
        "x": {"field": "yr", "type": "quantitative", "scale": {"domain": [1600, 2005], "nice": false, "zero": false}, "axis": null},
        "y": {"field": "v", "type": "quantitative", "scale": {"domain": [-9, 23.973], "nice": false, "zero": false}, "axis": null},
        "text": {"field": "t"}
      }
    },
    {
      "data": {"name": "solarLabel"},
      "mark": {"type": "text", "align": "center", "baseline": "alphabetic", "fontSize": 23, "color": "#ee8a1c"},
      "encoding": {
        "x": {"field": "yr", "type": "quantitative", "scale": {"domain": [1600, 2005], "nice": false, "zero": false}, "axis": null},
        "y": {"field": "v", "type": "quantitative", "scale": {"domain": [-9, 23.973], "nice": false, "zero": false}, "axis": null},
        "text": {"field": "t"}
      }
    },
    {
      "data": {"name": "volcLabel"},
      "mark": {"type": "text", "align": "center", "baseline": "alphabetic", "fontSize": 23, "color": "#222"},
      "encoding": {
        "x": {"field": "yr", "type": "quantitative", "scale": {"domain": [1600, 2005], "nice": false, "zero": false}, "axis": null},
        "y": {"field": "v", "type": "quantitative", "scale": {"domain": [-9, 23.973], "nice": false, "zero": false}, "axis": null},
        "text": {"field": "t"}
      }
    },
    {
      "data": {"name": "bigBotLabels"},
      "mark": {"type": "text", "align": "left", "baseline": "alphabetic", "fontSize": 48, "font": "Liberation Sans", "color": "#000"},
      "encoding": {
        "x": {"field": "yr", "type": "quantitative", "scale": {"domain": [1600, 2005], "nice": false, "zero": false}, "axis": null},
        "y": {"field": "v", "type": "quantitative", "scale": {"domain": [-9, 23.973], "nice": false, "zero": false}, "axis": null},
        "text": {"field": "t"}
      }
    },
    {
      "data": {"name": "arrow"},
      "mark": {"type": "rule", "color": "#000", "strokeWidth": 1.2},
      "encoding": {
        "x": {"field": "x1", "type": "quantitative", "scale": {"domain": [1600, 2005], "nice": false, "zero": false}, "axis": null},
        "x2": {"field": "x2"},
        "y": {"field": "y1", "type": "quantitative", "scale": {"domain": [-9, 23.973], "nice": false, "zero": false}, "axis": null},
        "y2": {"field": "y2"}
      }
    },
    {
      "data": {"name": "arrowHead"},
      "mark": {"type": "point", "shape": "M0,0L1.9,-0.66L1.9,0.66Z", "filled": true, "color": "#000", "opacity": 1, "size": 1000, "angle": 14.4},
      "encoding": {
        "x": {"field": "yr", "type": "quantitative", "scale": {"domain": [1600, 2005], "nice": false, "zero": false}, "axis": null},
        "y": {"field": "v", "type": "quantitative", "scale": {"domain": [-9, 23.973], "nice": false, "zero": false}, "axis": null}
      }
    }
  ],
  "resolve": {"scale": {"y": "independent", "color": "independent"}, "axis": {"x": "independent", "y": "independent"}}
}
